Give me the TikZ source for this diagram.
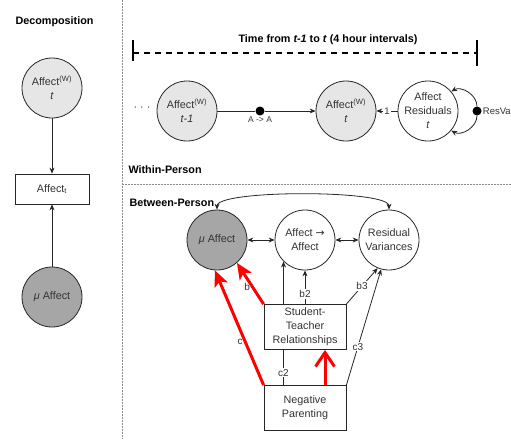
\documentclass[tikz,border=0pt]{standalone}
\usepackage{fontspec}
\setmainfont{Liberation Sans}
\newfontfamily\symfont{DejaVu Sans}
\usetikzlibrary{arrows.meta, positioning, calc, backgrounds}

\definecolor{lightfill}{HTML}{E6E6E6}
\definecolor{darkfill}{HTML}{A6A6A6}
\definecolor{linegray}{HTML}{262626}
\definecolor{txtgray}{HTML}{333333}
\definecolor{sepgray}{HTML}{8C8C8C}

\begin{document}
\begin{tikzpicture}[x=1pt, y=1pt,
    font=\fontsize{10.8}{14}\selectfont,
    latent/.style={circle, draw=linegray, line width=0.8pt, minimum size=60pt, inner sep=0pt, align=center, text=txtgray},
    within/.style={latent, fill=lightfill},
    between/.style={latent, fill=darkfill},
    indicator/.style={rectangle, draw=linegray, line width=0.8pt, fill=white, align=center, text=txtgray, inner sep=1pt},
    paneltitle/.style={anchor=west, font=\fontsize{10.8}{13}\selectfont\bfseries},
    pathlabel/.style={fill=white, inner sep=1pt, text=txtgray, font=\fontsize{10}{11}\selectfont},
    smalllabel/.style={text=txtgray, font=\fontsize{8.5}{10}\selectfont, inner sep=1pt},
    blackdot/.style={circle, fill=black, minimum size=9pt, inner sep=0pt},
    pathedge/.style={draw=linegray, line width=0.8pt, -{Stealth[length=6pt, width=5pt]}},
    twoway/.style={pathedge, {Stealth[length=6pt, width=5pt]}-{Stealth[length=6pt, width=5pt]}},
    hilite/.style={draw=red, line width=3pt, -{Stealth[length=16pt, width=14pt, inset=4pt]}},
    panelsep/.style={draw=sepgray, line width=0.8pt, dash pattern=on 1.5pt off 1.5pt}
  ]
  \useasboundingbox (0,0) rectangle (511,-439);

  % ---------------- panel borders ----------------
  \draw[panelsep] (122,0) -- (122,-439);
  \draw[panelsep] (122,-184) -- (511,-184);

  % ---------------- DECOMPOSITION ----------------
  \node[paneltitle] (decomp) at (12,-22) {Decomposition};
  \node[within] (wleft) at (52,-88) {Affect\textsuperscript{(W)}\\\textit{t}};
  \node[indicator, minimum width=74pt, minimum height=30pt] (obs) at (52,-189) {Affect\textsubscript{t}};
  \node[between] (muleft) at (52,-297) {\textit{μ} Affect};
  \draw[pathedge] (wleft) -- (obs);
  \draw[pathedge] (muleft) -- (obs);

  % ---------------- WITHIN-PERSON ----------------
  \coordinate (tstart) at (133,-53);
  \coordinate (tend) at (477,-53);
  \draw[line width=1.8pt, dash pattern=on 6pt off 5pt] (tstart) -- (tend);
  \draw[line width=1.8pt] ($(tstart)+(0,13)$) -- ($(tstart)+(0,-8)$);
  \draw[line width=1.8pt] ($(tend)+(0,13)$) -- ($(tend)+(0,-13)$);
  \node[font=\fontsize{10.8}{13}\selectfont\bfseries] (timelbl) at (328,-40) {Time from \textit{t-1} to \textit{t} (4 hour intervals)};

  \node[text=txtgray] (prevdots) at (142,-109) {· · ·};
  \node[within] (wprev) at (187,-111) {Affect\textsuperscript{(W)}\\\textit{t-1}};
  \node[within] (wcur) at (346,-111) {Affect\textsuperscript{(W)}\\\textit{t}};
  \node[latent] (resid) at (428,-111) {Affect\\Residuals\\\textit{t}};
  \node[blackdot, label={[smalllabel]below:A -> A}] (autoreg) at (260,-111) {};
  \node[blackdot, label={[smalllabel, font=\fontsize{9.5}{11}\selectfont]right:ResVa}] (resvar) at (477,-111) {};

  \draw[pathedge, -] (wprev) -- (autoreg);
  \draw[pathedge] (autoreg) -- (wcur);
  \draw[pathedge] (resid) -- node[pathlabel, font=\fontsize{9.5}{11}\selectfont]{1} (wcur);
  \draw[pathedge] (resvar) to[out=90, in=30] (resid.40);
  \draw[pathedge] (resvar) to[out=-90, in=-30] (resid.-40);

  \node[paneltitle] (withinlbl) at (125,-170) {Within-Person};

  % ---------------- BETWEEN-PERSON ----------------
  \node[paneltitle] (betweenlbl) at (126,-203) {Between-Person};
  \node[between] (mu) at (217,-240) {\textit{μ} Affect};
  \node[latent] (aa) at (305,-240) {Affect {\symfont →}\\Affect};
  \node[latent] (rv) at (389,-240) {Residual\\Variances};
  \node[indicator, minimum width=82pt, minimum height=45pt] (st) at (305,-327) {Student-\\Teacher\\Relationships};
  \node[indicator, minimum width=82pt, minimum height=45pt] (np) at (305,-408) {Negative\\Parenting};

  \draw[twoway] (mu) -- (aa);
  \draw[twoway] (aa) -- (rv);
  \draw[twoway] (mu.north) .. controls +(0,20) and +(0,20) .. (rv.north);

  \begin{scope}[on background layer]
    \draw[pathedge] (np.north -| aa.-135) -- node[pathlabel, pos=0.1]{c2} (aa.-135);
  \end{scope}
  \draw[pathedge] (st.north) -- node[pathlabel, pos=0.3]{b2} (aa.south);
  \draw[pathedge] (st.north east) -- node[pathlabel]{b3} (rv.-112);
  \draw[pathedge] (np.north east) -- node[pathlabel, pos=0.33]{c3} (rv.-105);

  % highlighted paths
  \draw[hilite] (st.north west) -- node[pathlabel, fill=none, left, pos=0.42]{b} (mu.-49);
  \draw[hilite] (np.north west) -- node[pathlabel, fill=none, left, pos=0.38]{c} (mu.-94);
  \draw[draw=red, line width=3pt, -{Straight Barb[length=14pt, width=19pt]}] ($(np.north)+(20,0)$) -- ($(st.south)+(20,0)$);
\end{tikzpicture}
\end{document}
